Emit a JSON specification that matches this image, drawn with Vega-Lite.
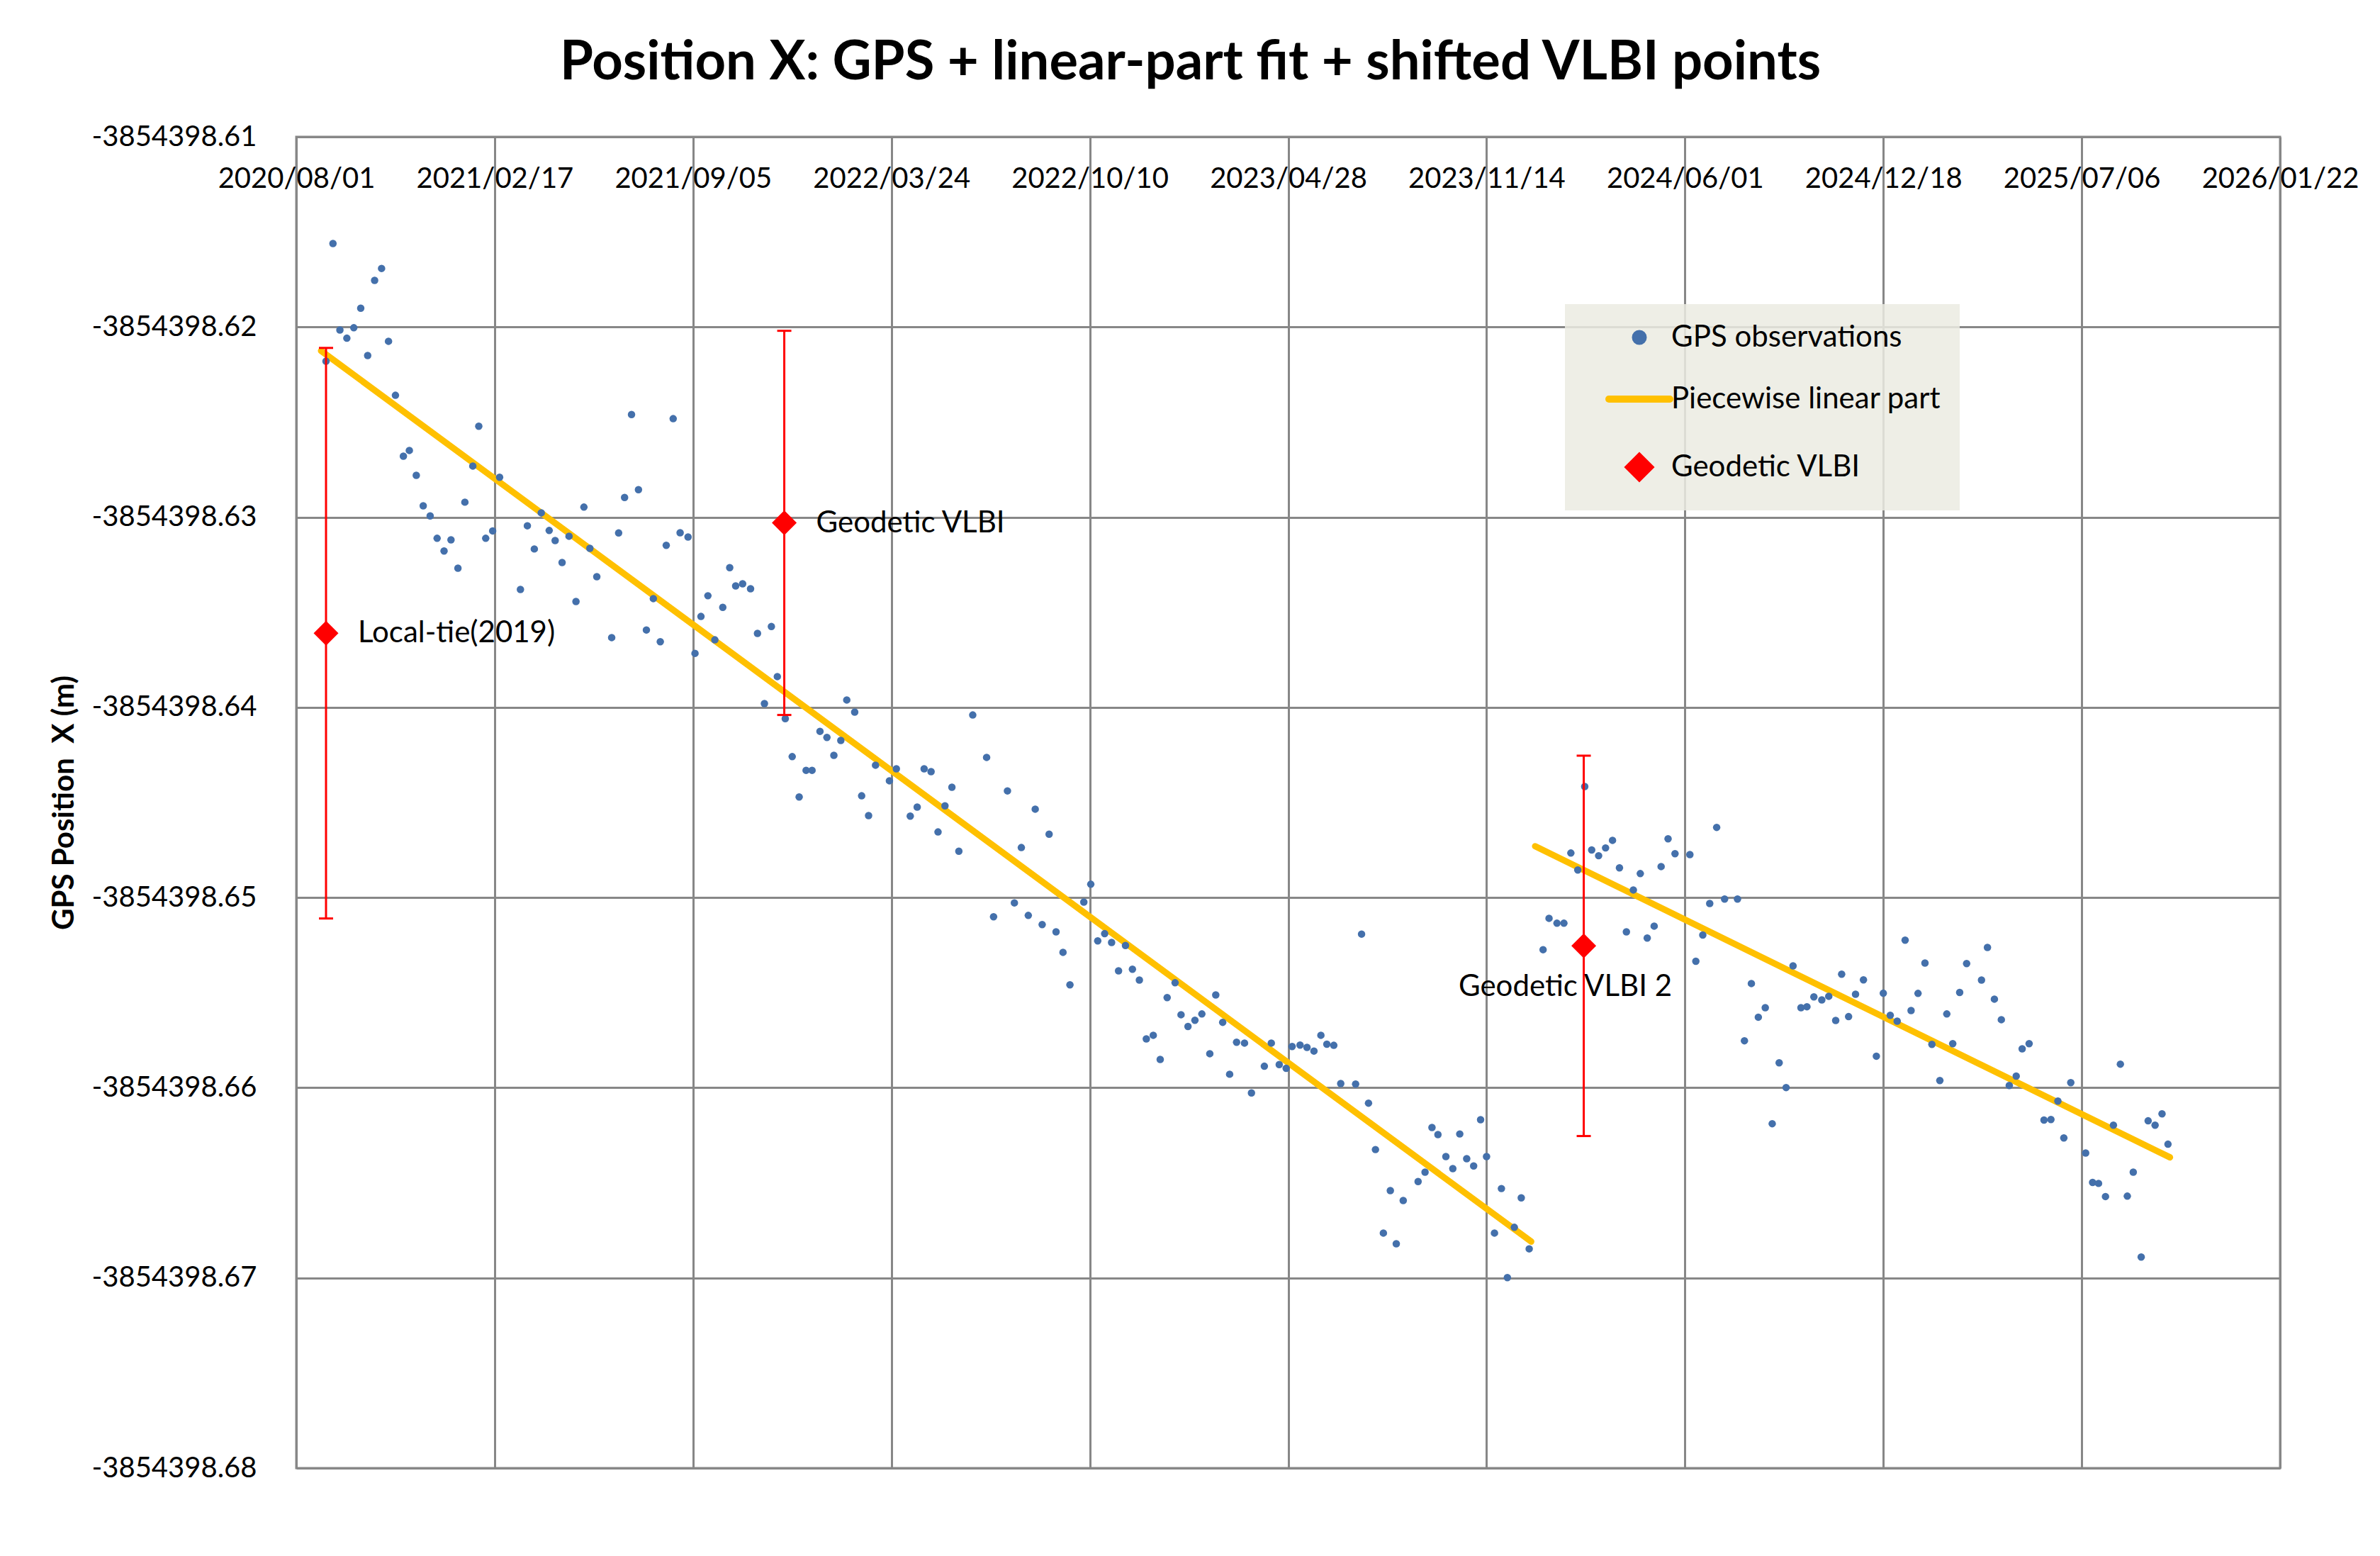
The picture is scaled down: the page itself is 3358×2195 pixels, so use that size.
{
  "$schema": "https://vega.github.io/schema/vega-lite/v6.json",
  "width": 2799,
  "height": 1878,
  "autosize": {"type": "none"},
  "padding": {"left": 418, "top": 193, "right": 141, "bottom": 124},
  "background": "white",
  "title": {
    "text": "Position X: GPS + linear-part fit + shifted VLBI points",
    "font": "Lato", "fontSize": 76, "fontWeight": "bold", "color": "black",
    "anchor": "middle", "frame": "group", "dx": -138, "offset": -15, "baseline": "alphabetic"
  },
  "config": {
    "font": "Lato",
    "view": {"stroke": "#878787", "strokeWidth": 3},
    "axis": {"gridColor": "#878787", "gridWidth": 3, "gridOpacity": 1, "labelColor": "black", "labelFont": "Lato", "labelFontSize": 40, "labelLimit": 0, "ticks": false, "domain": false, "labelOverlap": false, "labelFlush": false, "labelBound": false},
    "legend": {
      "orient": "none", "legendX": 1790, "legendY": 236, "title": null,
      "fillColor": "rgba(235,235,226,0.85)", "padding": 26,
      "labelFont": "Lato", "labelFontSize": 42, "labelColor": "black", "labelLimit": 0,
      "symbolSize": 400, "symbolOffset": 58, "labelOffset": 24, "rowPadding": 40
    }
  },
  "datasets": {
    "gps": [
      {"date":"2020-08-31","x":-3854398.6218},{"date":"2020-09-07","x":-3854398.61561},{"date":"2020-09-14","x":-3854398.62016},{"date":"2020-09-21","x":-3854398.62059},{"date":"2020-09-28","x":-3854398.62004},{"date":"2020-10-05","x":-3854398.61901},{"date":"2020-10-12","x":-3854398.6215},{"date":"2020-10-19","x":-3854398.61755},{"date":"2020-10-26","x":-3854398.61692},{"date":"2020-11-02","x":-3854398.62075},{"date":"2020-11-09","x":-3854398.62359},{"date":"2020-11-17","x":-3854398.62679},{"date":"2020-11-23","x":-3854398.62649},{"date":"2020-11-30","x":-3854398.6278},{"date":"2020-12-07","x":-3854398.6294},{"date":"2020-12-14","x":-3854398.62993},{"date":"2020-12-21","x":-3854398.63111},{"date":"2020-12-28","x":-3854398.63178},{"date":"2021-01-04","x":-3854398.63119},{"date":"2021-01-11","x":-3854398.63268},{"date":"2021-01-18","x":-3854398.62921},{"date":"2021-01-26","x":-3854398.62731},{"date":"2021-02-01","x":-3854398.62522},{"date":"2021-02-08","x":-3854398.63111},{"date":"2021-02-15","x":-3854398.63072},{"date":"2021-02-22","x":-3854398.6279},{"date":"2021-03-15","x":-3854398.6338},{"date":"2021-03-22","x":-3854398.63045},{"date":"2021-03-29","x":-3854398.63167},{"date":"2021-04-05","x":-3854398.62977},{"date":"2021-04-13","x":-3854398.6307},{"date":"2021-04-19","x":-3854398.63123},{"date":"2021-04-26","x":-3854398.63238},{"date":"2021-05-03","x":-3854398.631},{"date":"2021-05-10","x":-3854398.63443},{"date":"2021-05-18","x":-3854398.62947},{"date":"2021-05-24","x":-3854398.63164},{"date":"2021-05-31","x":-3854398.63313},{"date":"2021-06-15","x":-3854398.63633},{"date":"2021-06-22","x":-3854398.63083},{"date":"2021-06-28","x":-3854398.62896},{"date":"2021-07-05","x":-3854398.6246},{"date":"2021-07-12","x":-3854398.62855},{"date":"2021-07-20","x":-3854398.63593},{"date":"2021-07-27","x":-3854398.63428},{"date":"2021-08-03","x":-3854398.63655},{"date":"2021-08-09","x":-3854398.63148},{"date":"2021-08-16","x":-3854398.62482},{"date":"2021-08-23","x":-3854398.63082},{"date":"2021-08-31","x":-3854398.63104},{"date":"2021-09-07","x":-3854398.63716},{"date":"2021-09-13","x":-3854398.63522},{"date":"2021-09-20","x":-3854398.63413},
      {"date":"2021-09-27","x":-3854398.63645},{"date":"2021-10-05","x":-3854398.63474},{"date":"2021-10-12","x":-3854398.63265},{"date":"2021-10-18","x":-3854398.63361},{"date":"2021-10-25","x":-3854398.6335},{"date":"2021-11-02","x":-3854398.63376},{"date":"2021-11-09","x":-3854398.63611},{"date":"2021-11-16","x":-3854398.6398},{"date":"2021-11-23","x":-3854398.63575},{"date":"2021-11-29","x":-3854398.63838},{"date":"2021-12-07","x":-3854398.64059},{"date":"2021-12-14","x":-3854398.64259},{"date":"2021-12-21","x":-3854398.64471},{"date":"2021-12-28","x":-3854398.64331},{"date":"2022-01-03","x":-3854398.64331},{"date":"2022-01-11","x":-3854398.64126},{"date":"2022-01-18","x":-3854398.64158},{"date":"2022-01-25","x":-3854398.64252},{"date":"2022-02-01","x":-3854398.64174},{"date":"2022-02-07","x":-3854398.63961},{"date":"2022-02-15","x":-3854398.64025},{"date":"2022-02-22","x":-3854398.64465},{"date":"2022-03-01","x":-3854398.64569},{"date":"2022-03-08","x":-3854398.64304},{"date":"2022-03-22","x":-3854398.64386},{"date":"2022-03-29","x":-3854398.64323},{"date":"2022-04-12","x":-3854398.64572},{"date":"2022-04-19","x":-3854398.64524},{"date":"2022-04-26","x":-3854398.64323},{"date":"2022-05-03","x":-3854398.64338},{"date":"2022-05-10","x":-3854398.64655},{"date":"2022-05-17","x":-3854398.64518},{"date":"2022-05-24","x":-3854398.6442},{"date":"2022-05-31","x":-3854398.64756},{"date":"2022-06-14","x":-3854398.6404},{"date":"2022-06-28","x":-3854398.64263},{"date":"2022-07-05","x":-3854398.65101},{"date":"2022-07-19","x":-3854398.64439},{"date":"2022-07-26","x":-3854398.65028},{"date":"2022-08-02","x":-3854398.64737},{"date":"2022-08-09","x":-3854398.65094},{"date":"2022-08-16","x":-3854398.64535},{"date":"2022-08-23","x":-3854398.65142},{"date":"2022-08-30","x":-3854398.64667},{"date":"2022-09-06","x":-3854398.6518},{"date":"2022-09-13","x":-3854398.65288},{"date":"2022-09-20","x":-3854398.65459},{"date":"2022-10-04","x":-3854398.65024},{"date":"2022-10-11","x":-3854398.6493},{"date":"2022-10-18","x":-3854398.65228},
      {"date":"2022-10-25","x":-3854398.6519},{"date":"2022-11-01","x":-3854398.65236},{"date":"2022-11-08","x":-3854398.65385},{"date":"2022-11-15","x":-3854398.65252},{"date":"2022-11-22","x":-3854398.65377},{"date":"2022-11-29","x":-3854398.65434},{"date":"2022-12-06","x":-3854398.65743},{"date":"2022-12-13","x":-3854398.65724},{"date":"2022-12-20","x":-3854398.65851},{"date":"2022-12-27","x":-3854398.65526},{"date":"2023-01-04","x":-3854398.65448},{"date":"2023-01-10","x":-3854398.65616},{"date":"2023-01-17","x":-3854398.65678},{"date":"2023-01-24","x":-3854398.65645},{"date":"2023-01-31","x":-3854398.65612},{"date":"2023-02-08","x":-3854398.65821},{"date":"2023-02-14","x":-3854398.65512},{"date":"2023-02-21","x":-3854398.65656},{"date":"2023-02-28","x":-3854398.65929},{"date":"2023-03-07","x":-3854398.65761},{"date":"2023-03-15","x":-3854398.65765},{"date":"2023-03-22","x":-3854398.66027},{"date":"2023-04-04","x":-3854398.65887},{"date":"2023-04-11","x":-3854398.65765},{"date":"2023-04-19","x":-3854398.65878},{"date":"2023-04-26","x":-3854398.65898},{"date":"2023-05-02","x":-3854398.65783},{"date":"2023-05-10","x":-3854398.65776},{"date":"2023-05-17","x":-3854398.65788},{"date":"2023-05-24","x":-3854398.65807},{"date":"2023-05-31","x":-3854398.65724},{"date":"2023-06-06","x":-3854398.65771},{"date":"2023-06-13","x":-3854398.65777},{"date":"2023-06-20","x":-3854398.65978},{"date":"2023-07-05","x":-3854398.65981},{"date":"2023-07-11","x":-3854398.65192},{"date":"2023-07-18","x":-3854398.66081},{"date":"2023-07-25","x":-3854398.66325},{"date":"2023-08-02","x":-3854398.66764},{"date":"2023-08-09","x":-3854398.66541},{"date":"2023-08-15","x":-3854398.6682},{"date":"2023-08-22","x":-3854398.66593},{"date":"2023-09-06","x":-3854398.66493},{"date":"2023-09-13","x":-3854398.66444},{"date":"2023-09-20","x":-3854398.66209},{"date":"2023-09-26","x":-3854398.66246},{"date":"2023-10-04","x":-3854398.66362},{"date":"2023-10-11","x":-3854398.66425},{"date":"2023-10-18","x":-3854398.66243},{"date":"2023-10-25","x":-3854398.66373},{"date":"2023-11-01","x":-3854398.66411},{"date":"2023-11-08","x":-3854398.66168},{"date":"2023-11-14","x":-3854398.66362},{"date":"2023-11-22","x":-3854398.66764},{"date":"2023-11-29","x":-3854398.6653},{"date":"2023-12-05","x":-3854398.66998},{"date":"2023-12-12","x":-3854398.66734},{"date":"2023-12-19","x":-3854398.66579},{"date":"2023-12-27","x":-3854398.66847},{"date":"2024-01-10","x":-3854398.65274},{"date":"2024-01-16","x":-3854398.65109},
      {"date":"2024-01-24","x":-3854398.65135},{"date":"2024-01-31","x":-3854398.65135},{"date":"2024-02-07","x":-3854398.64766},{"date":"2024-02-14","x":-3854398.64855},{"date":"2024-02-21","x":-3854398.64416},{"date":"2024-02-28","x":-3854398.6475},{"date":"2024-03-06","x":-3854398.6478},{"date":"2024-03-13","x":-3854398.64739},{"date":"2024-03-20","x":-3854398.64699},{"date":"2024-03-27","x":-3854398.64844},{"date":"2024-04-03","x":-3854398.6518},{"date":"2024-04-10","x":-3854398.6496},{"date":"2024-04-17","x":-3854398.64874},{"date":"2024-04-24","x":-3854398.65213},{"date":"2024-05-01","x":-3854398.6515},{"date":"2024-05-08","x":-3854398.64837},{"date":"2024-05-15","x":-3854398.64691},{"date":"2024-05-22","x":-3854398.64769},{"date":"2024-06-06","x":-3854398.64774},{"date":"2024-06-12","x":-3854398.65335},{"date":"2024-06-19","x":-3854398.65197},{"date":"2024-06-26","x":-3854398.65031},{"date":"2024-07-03","x":-3854398.64631},{"date":"2024-07-11","x":-3854398.65008},{"date":"2024-07-24","x":-3854398.65008},{"date":"2024-07-31","x":-3854398.65753},{"date":"2024-08-07","x":-3854398.65452},{"date":"2024-08-14","x":-3854398.65629},{"date":"2024-08-21","x":-3854398.65579},{"date":"2024-08-28","x":-3854398.66189},{"date":"2024-09-04","x":-3854398.65869},{"date":"2024-09-11","x":-3854398.65999},{"date":"2024-09-18","x":-3854398.65359},{"date":"2024-09-26","x":-3854398.65579},{"date":"2024-10-02","x":-3854398.65574},{"date":"2024-10-09","x":-3854398.65522},{"date":"2024-10-17","x":-3854398.65538},{"date":"2024-10-24","x":-3854398.65519},{"date":"2024-10-31","x":-3854398.65646},{"date":"2024-11-06","x":-3854398.65403},{"date":"2024-11-13","x":-3854398.65626},{"date":"2024-11-20","x":-3854398.65508},{"date":"2024-11-28","x":-3854398.65433},{"date":"2024-12-11","x":-3854398.65834},{"date":"2024-12-18","x":-3854398.65503},{"date":"2024-12-25","x":-3854398.65619},
      {"date":"2025-01-01","x":-3854398.6565},{"date":"2025-01-09","x":-3854398.65224},{"date":"2025-01-15","x":-3854398.65594},{"date":"2025-01-22","x":-3854398.65504},{"date":"2025-01-29","x":-3854398.65344},{"date":"2025-02-05","x":-3854398.65772},{"date":"2025-02-13","x":-3854398.65962},{"date":"2025-02-20","x":-3854398.65612},{"date":"2025-02-26","x":-3854398.65768},{"date":"2025-03-05","x":-3854398.65499},{"date":"2025-03-12","x":-3854398.65347},{"date":"2025-03-27","x":-3854398.65434},{"date":"2025-04-02","x":-3854398.65262},{"date":"2025-04-09","x":-3854398.65534},{"date":"2025-04-16","x":-3854398.65642},{"date":"2025-04-24","x":-3854398.65988},{"date":"2025-05-01","x":-3854398.65939},{"date":"2025-05-07","x":-3854398.65795},{"date":"2025-05-14","x":-3854398.65768},{"date":"2025-05-29","x":-3854398.6617},{"date":"2025-06-05","x":-3854398.66167},{"date":"2025-06-12","x":-3854398.6607},{"date":"2025-06-18","x":-3854398.66264},{"date":"2025-06-25","x":-3854398.65973},{"date":"2025-07-10","x":-3854398.66343},{"date":"2025-07-17","x":-3854398.66498},{"date":"2025-07-23","x":-3854398.66503},{"date":"2025-07-30","x":-3854398.66572},{"date":"2025-08-07","x":-3854398.66197},{"date":"2025-08-14","x":-3854398.65876},{"date":"2025-08-21","x":-3854398.6657},{"date":"2025-08-27","x":-3854398.66444},{"date":"2025-09-04","x":-3854398.6689},{"date":"2025-09-11","x":-3854398.66174},{"date":"2025-09-18","x":-3854398.66197},{"date":"2025-09-25","x":-3854398.66137},{"date":"2025-10-01","x":-3854398.66297}
    ],
    "fit": [
      {"date":"2020-08-26","x":-3854398.62125,"segment":1},
      {"date":"2023-12-29","x":-3854398.66809,"segment":1},
      {"date":"2024-01-02","x":-3854398.6473,"segment":2},
      {"date":"2025-10-03","x":-3854398.66366,"segment":2}
    ],
    "vlbi": [
      {"date":"2020-08-31","x":-3854398.6361,"lo":-3854398.6511,"hi":-3854398.6211,"label":"Local-tie(2019)"},
      {"date":"2021-12-06","x":-3854398.6303,"lo":-3854398.6404,"hi":-3854398.6202,"label":"Geodetic VLBI"},
      {"date":"2024-02-20","x":-3854398.65254,"lo":-3854398.66254,"hi":-3854398.64254,"label":"Geodetic VLBI 2"}
    ]
  },
  "encoding": {
    "x": {
      "field": "date", "type": "temporal",
      "scale": {"type": "utc", "domain": [{"year": 2020, "month": 8, "date": 1, "utc": true}, {"year": 2026, "month": 1, "date": 22, "utc": true}]},
      "axis": {
        "orient": "top", "title": null, "grid": true,
        "values": [
          {"year": 2020, "month": 8, "date": 1, "utc": true},
          {"year": 2021, "month": 2, "date": 17, "utc": true},
          {"year": 2021, "month": 9, "date": 5, "utc": true},
          {"year": 2022, "month": 3, "date": 24, "utc": true},
          {"year": 2022, "month": 10, "date": 10, "utc": true},
          {"year": 2023, "month": 4, "date": 28, "utc": true},
          {"year": 2023, "month": 11, "date": 14, "utc": true},
          {"year": 2024, "month": 6, "date": 1, "utc": true},
          {"year": 2024, "month": 12, "date": 18, "utc": true},
          {"year": 2025, "month": 7, "date": 6, "utc": true},
          {"year": 2026, "month": 1, "date": 22, "utc": true}
        ],
        "labelExpr": "utcFormat(datum.value, '%Y/%m/%d')",
        "labelPadding": -59, "labelBaseline": "middle"
      }
    },
    "y": {
      "field": "x", "type": "quantitative",
      "scale": {"domain": [-3854398.68, -3854398.61], "nice": false, "zero": false},
      "axis": {
        "grid": true,
        "values": [-3854398.61, -3854398.62, -3854398.63, -3854398.64, -3854398.65, -3854398.66, -3854398.67, -3854398.68],
        "labelExpr": "'-' + format(-datum.value, '.2f')",
        "labelPadding": 56,
        "title": "GPS Position\u00a0 X (m)",
        "titleFont": "Lato", "titleFontSize": 42, "titleFontWeight": "bold", "titleColor": "black",
        "titleAngle": 270, "titleX": -328, "titleY": 939, "titleAlign": "center", "titleBaseline": "middle"
      }
    }
  },
  "layer": [
    {
      "data": {"name": "fit"},
      "mark": {"type": "line", "strokeWidth": 9, "strokeCap": "round"},
      "encoding": {
        "detail": {"field": "segment", "type": "nominal"},
        "color": {"datum": "Piecewise linear part", "type": "nominal",
          "scale": {"domain": ["GPS observations", "Piecewise linear part", "Geodetic VLBI"], "range": ["#4470AB", "#FFC000", "#FF0000"]},
          "legend": {"encode": {"symbols": {"update": {
            "size": {"signal": "datum.value === 'Piecewise linear part' ? 7400 : datum.value === 'Geodetic VLBI' ? 841 : 121"},
            "fill": {"signal": "datum.value === 'GPS observations' ? '#4470AB' : datum.value === 'Geodetic VLBI' ? '#FF0000' : 'transparent'"},
            "stroke": {"signal": "datum.value === 'Piecewise linear part' ? '#FFC000' : 'transparent'"},
            "strokeWidth": {"value": 10},
            "strokeCap": {"value": "round"},
            "opacity": {"value": 1}
          }}}}}
      }
    },
    {
      "data": {"name": "gps"},
      "mark": {"type": "point", "filled": true, "size": 110, "opacity": 1, "strokeWidth": 0},
      "encoding": {
        "color": {"datum": "GPS observations", "type": "nominal",
          "scale": {"domain": ["GPS observations", "Piecewise linear part", "Geodetic VLBI"], "range": ["#4470AB", "#FFC000", "#FF0000"]},
          "legend": {"encode": {"symbols": {"update": {
            "size": {"signal": "datum.value === 'Piecewise linear part' ? 7400 : datum.value === 'Geodetic VLBI' ? 841 : 121"},
            "fill": {"signal": "datum.value === 'GPS observations' ? '#4470AB' : datum.value === 'Geodetic VLBI' ? '#FF0000' : 'transparent'"},
            "stroke": {"signal": "datum.value === 'Piecewise linear part' ? '#FFC000' : 'transparent'"},
            "strokeWidth": {"value": 10},
            "strokeCap": {"value": "round"},
            "opacity": {"value": 1}
          }}}}},
        "shape": {"datum": "GPS observations", "type": "nominal",
          "scale": {"domain": ["GPS observations", "Piecewise linear part", "Geodetic VLBI"], "range": ["circle", "M-1,0H1", "diamond"]}}
      }
    },
    {
      "data": {"name": "vlbi"},
      "mark": {"type": "rule", "color": "#FF0000", "strokeWidth": 3},
      "encoding": {"y": {"field": "lo", "type": "quantitative"}, "y2": {"field": "hi"}}
    },
    {
      "data": {"name": "vlbi"},
      "mark": {"type": "point", "shape": "stroke", "size": 400, "filled": false, "color": "#FF0000", "strokeWidth": 3, "opacity": 1},
      "encoding": {"y": {"field": "lo", "type": "quantitative"}}
    },
    {
      "data": {"name": "vlbi"},
      "mark": {"type": "point", "shape": "stroke", "size": 400, "filled": false, "color": "#FF0000", "strokeWidth": 3, "opacity": 1},
      "encoding": {"y": {"field": "hi", "type": "quantitative"}}
    },
    {
      "data": {"name": "vlbi"},
      "mark": {"type": "point", "filled": true, "size": 1225, "opacity": 1, "strokeWidth": 0},
      "encoding": {
        "color": {"datum": "Geodetic VLBI", "type": "nominal",
          "scale": {"domain": ["GPS observations", "Piecewise linear part", "Geodetic VLBI"], "range": ["#4470AB", "#FFC000", "#FF0000"]},
          "legend": {"encode": {"symbols": {"update": {
            "size": {"signal": "datum.value === 'Piecewise linear part' ? 7400 : datum.value === 'Geodetic VLBI' ? 841 : 121"},
            "fill": {"signal": "datum.value === 'GPS observations' ? '#4470AB' : datum.value === 'Geodetic VLBI' ? '#FF0000' : 'transparent'"},
            "stroke": {"signal": "datum.value === 'Piecewise linear part' ? '#FFC000' : 'transparent'"},
            "strokeWidth": {"value": 10},
            "strokeCap": {"value": "round"},
            "opacity": {"value": 1}
          }}}}},
        "shape": {"datum": "Geodetic VLBI", "type": "nominal",
          "scale": {"domain": ["GPS observations", "Piecewise linear part", "Geodetic VLBI"], "range": ["circle", "M-1,0H1", "diamond"]}}
      }
    },
    {
      "data": {"name": "vlbi"},
      "transform": [{"filter": "datum.label !== 'Geodetic VLBI 2'"}],
      "mark": {"type": "text", "align": "left", "baseline": "middle", "dx": 45, "font": "Lato", "fontSize": 42, "color": "black"},
      "encoding": {"text": {"field": "label"}}
    },
    {
      "data": {"name": "vlbi"},
      "transform": [{"filter": "datum.label === 'Geodetic VLBI 2'"}],
      "mark": {"type": "text", "align": "center", "baseline": "middle", "dx": -26, "dy": 58, "font": "Lato", "fontSize": 42, "color": "black"},
      "encoding": {"text": {"field": "label"}}
    }
  ]
}
